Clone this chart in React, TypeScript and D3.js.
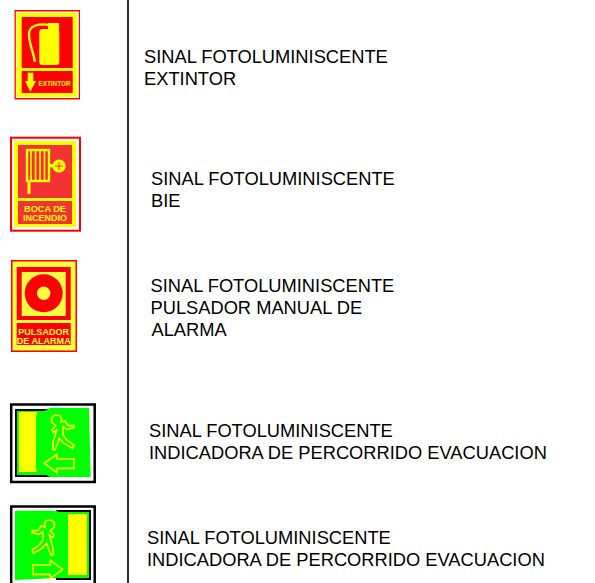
import * as d3 from "d3";
import React from "react";

const W = 595;
const H = 583;

// legend text, one list of lines per sign
const signIds = ["extintor", "bie", "pulsador", "salidaIzq", "salidaDer"];
const signLines = [
  ["SINAL FOTOLUMINISCENTE", "EXTINTOR"],
  ["SINAL FOTOLUMINISCENTE", "BIE"],
  ["SINAL FOTOLUMINISCENTE", "PULSADOR MANUAL DE", "ALARMA"],
  ["SINAL FOTOLUMINISCENTE", "INDICADORA DE PERCORRIDO EVACUACION"],
  ["SINAL FOTOLUMINISCENTE", "INDICADORA DE PERCORRIDO EVACUACION"],
];

// layout of the text column
const textX = d3.scaleOrdinal<string, number>().domain(signIds).range([144, 151, 150.5, 149, 147]);
const textY = d3.scaleOrdinal<string, number>().domain(signIds).range([62.5, 184.5, 291.5, 436.5, 543.5]);
const lineStep = 22;

const RED = "#ff0000";
const YEL = "#ffff00";
const GRN = "#00ff00";

// runner + arrow outlines, traced at 3x from the left-pointing sign
const runner: [number, number][] = [
  [155, 68], [165, 60], [180, 62], [185, 72], [182, 82], [195, 78], [205, 92], [222, 92], [222, 98],
  [200, 103], [190, 95], [188, 118], [200, 135], [222, 150], [218, 160], [192, 145], [178, 130],
  [172, 148], [165, 166], [158, 164], [160, 140], [165, 122], [170, 105], [160, 112], [155, 105],
  [168, 92], [155, 82],
];
const arrow: [number, number][] = [
  [133, 205], [170, 178], [170, 192], [222, 192], [222, 220], [170, 220], [170, 232],
];
const closed = d3.line().curve(d3.curveLinearClosed);
const trace = (pts: [number, number][]) => closed(pts.map(([x, y]) => [x / 3, y / 3] as [number, number])) as string;
const poly = (pts: [number, number][]) => closed(pts) as string;

const capFont = "Liberation Sans, Arial, sans-serif";

function Extintor() {
  return (
    <g>
      <rect x={14.5} y={10} width={65.5} height={89.5} fill={RED} />
      <rect x={15.8} y={11.5} width={63} height={86.5} fill="#fff" />
      <rect x={16.7} y={12.7} width={60.5} height={84.5} fill={YEL} />
      <rect x={21.7} y={17} width={51} height={51} fill={RED} />
      <rect x={21.7} y={71} width={51} height={22} fill={RED} />
      <rect x={39.3} y={29} width={20} height={36} rx={3} fill={YEL} />
      <rect x={48} y={23} width={11} height={7} fill={YEL} />
      <path d="M50,25 C38,23 29,26 29,34 C29,44 33,50 35,62" fill="none" stroke={YEL} strokeWidth={2.4} />
      <path d={poly([[27.7, 72.7], [33.3, 72.7], [33.3, 81], [36, 81], [30.3, 91.7], [25, 81], [27.7, 81]])} fill={YEL} />
      <text x={38.5} y={86} fontFamily={capFont} fontWeight="bold" fontSize={7.6} fill={YEL} textLength={32} lengthAdjust="spacingAndGlyphs">EXTINTOR</text>
    </g>
  );
}

function Bie() {
  const coils = d3.range(4).map((i) => 31 + i * 4.5);
  return (
    <g>
      <rect x={10} y={136.7} width={71} height={95} fill={RED} />
      <rect x={12} y={138.7} width={67} height={91} fill="#fff" />
      <rect x={14} y={141} width={62} height={86} fill={YEL} />
      <rect x={18} y={145} width={54} height={53} fill="#f33333" />
      <rect x={18} y={201} width={54} height={23} fill="#f33333" />
      <rect x={27} y={150} width={22} height={31} fill="none" stroke={YEL} strokeWidth={2.4} />
      {coils.map((x) => (
        <line key={x} x1={x} x2={x} y1={150} y2={181} stroke={YEL} strokeWidth={1.6} />
      ))}
      <line x1={29} x2={29} y1={181} y2={194} stroke={YEL} strokeWidth={3} />
      <rect x={49} y={164} width={8} height={3.4} fill={YEL} />
      <circle cx={59} cy={166} r={6.6} fill={YEL} />
      <path d="M59,162V170M55,166H63" stroke="#f33333" strokeWidth={1} />
      <g fontFamily={capFont} fontWeight="bold" fontSize={9} fill={YEL} textAnchor="middle">
        <text x={45} y={212} textLength={42} lengthAdjust="spacingAndGlyphs">BOCA DE</text>
        <text x={45} y={221} textLength={44} lengthAdjust="spacingAndGlyphs">INCENDIO</text>
      </g>
    </g>
  );
}

function Pulsador() {
  return (
    <g>
      <rect x={11} y={260} width={66} height={92} fill={RED} />
      <rect x={12.5} y={261.5} width={63} height={89} fill="#ffff40" />
      <rect x={16.7} y={267} width={54} height={53} fill={RED} />
      <rect x={21.7} y={272} width={44} height={44} fill="#ffff40" />
      <circle cx={43.7} cy={293.3} r={19} fill={RED} />
      <circle cx={43.7} cy={293.3} r={6.7} fill="#ffff40" />
      <rect x={16.7} y={323} width={54} height={22} fill={RED} />
      <g fontFamily={capFont} fontWeight="bold" fontSize={9} fill="#ffff40" textAnchor="middle">
        <text x={43.7} y={334.5} textLength={51} lengthAdjust="spacingAndGlyphs">PULSADOR</text>
        <text x={43.7} y={343.5} textLength={54} lengthAdjust="spacingAndGlyphs">DE ALARMA</text>
      </g>
    </g>
  );
}

function SalidaIzq() {
  return (
    <g>
      <rect x={11.2} y={404.5} width={83.5} height={77.5} fill="#fff" stroke="#000" strokeWidth={2.5} />
      <rect x={16} y={410} width={36} height={66} fill={GRN} stroke="#000" strokeWidth={2} />
      <rect x={19} y={412} width={18} height={60} fill={YEL} />
      <path d={poly([[36, 415], [50, 408], [89, 408], [90.7, 477], [50, 477], [36, 470]])} fill={GRN} />
      <g transform="translate(0,395)" fill="none" stroke={YEL} strokeWidth={1.6}>
        <path d={trace(runner)} />
        <path d={trace(arrow)} />
      </g>
    </g>
  );
}

function SalidaDer() {
  return (
    <g>
      <rect x={11.2} y={506.5} width={83.5} height={80} fill="#fff" stroke="#000" strokeWidth={2.5} />
      <rect x={57} y={511} width={33} height={68} fill={GRN} stroke="#000" strokeWidth={2} />
      <rect x={68} y={514} width={19} height={61} fill={YEL} />
      <path d={poly([[15, 510.7], [56.7, 510.7], [68, 517], [68, 573], [56.7, 578], [15, 580]])} fill={GRN} />
      <g transform="translate(106,500) scale(-1,1)" fill="none" stroke={YEL} strokeWidth={1.6}>
        <path d={trace(runner)} />
        <path d={trace(arrow)} transform="translate(-1,1)" />
      </g>
    </g>
  );
}

const icons = [Extintor, Bie, Pulsador, SalidaIzq, SalidaDer];

export default function App() {
  return (
    <svg width={W} height={H} viewBox={`0 0 ${W} ${H}`} style={{ position: "absolute", left: 0, top: 0, background: "#fff" }}>
      {/* divider */}
      <line x1={128} x2={128} y1={0} y2={H} stroke="#333" strokeWidth={2} />

      {icons.map((Icon, i) => (
        <Icon key={signIds[i]} />
      ))}

      {signIds.map((id, i) => (
        <g key={id} fontFamily={capFont} fontSize={18.3} fill="#000">
          {signLines[i].map((line, j) => (
            <text key={j} x={textX(id) + (line === "ALARMA" ? 1 : 0)} y={textY(id) + j * lineStep}>{line}</text>
          ))}
        </g>
      ))}
    </svg>
  );
}
